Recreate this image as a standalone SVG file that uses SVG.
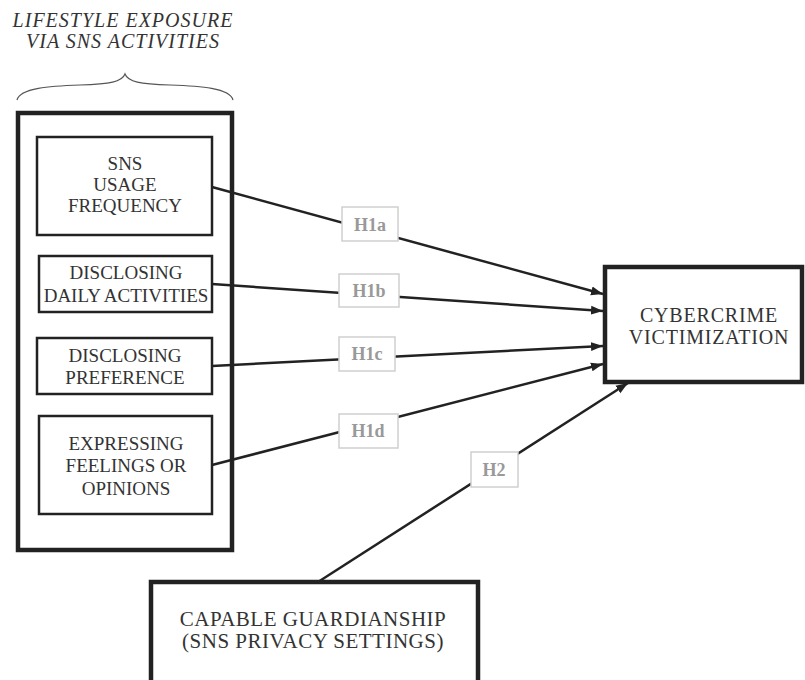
<svg xmlns="http://www.w3.org/2000/svg" width="805" height="680" viewBox="0 0 805 680">
<style>
.box{fill:#fff;stroke:#222;stroke-width:2.5}
.heavy{fill:#fff;stroke:#222;stroke-width:4.5}
text{font-family:'Liberation Serif','Times New Roman',serif}
.tx{fill:#333;text-anchor:middle}
.node{font-size:19px}
.big{font-size:20px;letter-spacing:0.8px}
.lbl{fill:#fff;stroke:#cfcfcf;stroke-width:1.5}
.lt{font-weight:bold;font-size:18px;fill:#999;text-anchor:middle}
.conn{stroke:#222;stroke-width:2.5;fill:none}
</style>
<defs>
<marker id="arr" markerUnits="userSpaceOnUse" markerWidth="13" markerHeight="10" refX="12" refY="5" orient="auto">
<path d="M0,0.5 L12,5 L0,9.5 z" fill="#222"/>
</marker>
</defs>

<g id="title">
<text class="tx" x="123" y="27" font-size="20" font-style="italic" letter-spacing="1">LIFESTYLE EXPOSURE</text>
<text class="tx" x="123" y="48" font-size="20" font-style="italic" letter-spacing="1">VIA SNS ACTIVITIES</text>
<path d="M17,100 C20,88 50,86 80,85 C110,84 122,82 125,74 C128,82 140,84 170,85 C200,86 230,88 233,100" fill="none" stroke="#555" stroke-width="1.2"/>
</g>

<g id="group-lifestyle">
<rect class="heavy" x="18" y="113" width="214" height="437"/>
</g>

<g id="connectors">
<line class="conn" x1="212" y1="187" x2="603" y2="294" marker-end="url(#arr)"/>
<line class="conn" x1="212" y1="284" x2="603" y2="311" marker-end="url(#arr)"/>
<line class="conn" x1="212" y1="366" x2="603" y2="346" marker-end="url(#arr)"/>
<line class="conn" x1="212" y1="465" x2="603" y2="364" marker-end="url(#arr)"/>
<line class="conn" x1="318" y1="582" x2="628" y2="383" marker-end="url(#arr)"/>
</g>

<g id="node-usage">
<rect class="box" x="37" y="137" width="175" height="98"/>
<text class="tx node" x="125" y="170">SNS</text>
<text class="tx node" x="125" y="191">USAGE</text>
<text class="tx node" x="125" y="212">FREQUENCY</text>
</g>

<g id="node-daily">
<rect class="box" x="39" y="256" width="173" height="56"/>
<text class="tx node" x="126" y="279">DISCLOSING</text>
<text class="tx node" x="126" y="302">DAILY ACTIVITIES</text>
</g>

<g id="node-preference">
<rect class="box" x="37" y="338" width="175" height="56"/>
<text class="tx node" x="125" y="362">DISCLOSING</text>
<text class="tx node" x="125" y="384">PREFERENCE</text>
</g>

<g id="node-feelings">
<rect class="box" x="39" y="416" width="173" height="98"/>
<text class="tx node" x="126" y="450">EXPRESSING</text>
<text class="tx node" x="126" y="472">FEELINGS OR</text>
<text class="tx node" x="126" y="495">OPINIONS</text>
</g>

<g id="node-victimization">
<rect class="heavy" x="605" y="267" width="197" height="115"/>
<text class="tx big" x="709" y="322">CYBERCRIME</text>
<text class="tx big" x="709" y="344">VICTIMIZATION</text>
</g>

<g id="node-guardianship">
<rect class="heavy" x="151" y="582" width="327" height="110"/>
<text class="tx" font-size="21" letter-spacing="0.5" x="313" y="626">CAPABLE GUARDIANSHIP</text>
<text class="tx" font-size="21" letter-spacing="0.5" x="313" y="648">(SNS PRIVACY SETTINGS)</text>
</g>

<g id="label-h1a">
<rect class="lbl" x="342" y="207" width="56" height="34"/>
<text class="lt" x="370" y="231">H1a</text>
</g>
<g id="label-h1b">
<rect class="lbl" x="339" y="274" width="60" height="33"/>
<text class="lt" x="369" y="297">H1b</text>
</g>
<g id="label-h1c">
<rect class="lbl" x="339" y="337" width="56" height="34"/>
<text class="lt" x="367" y="360">H1c</text>
</g>
<g id="label-h1d">
<rect class="lbl" x="339" y="414" width="59" height="34"/>
<text class="lt" x="368" y="437">H1d</text>
</g>
<g id="label-h2">
<rect class="lbl" x="471" y="452" width="47" height="35"/>
<text class="lt" x="494" y="476">H2</text>
</g>
</svg>
